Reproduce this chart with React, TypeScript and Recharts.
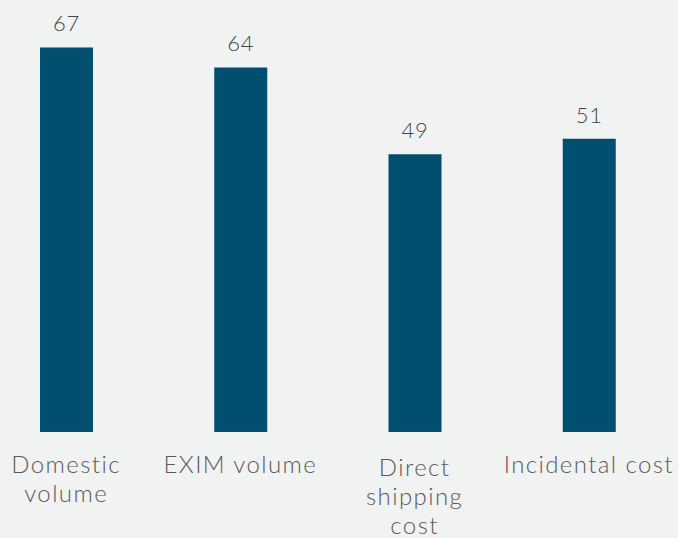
import { Bar, BarChart, LabelList, XAxis, YAxis } from 'recharts';

const categories = ['Domestic\nvolume', 'EXIM volume', 'Direct\nshipping\ncost', 'Incidental cost'];
const scores = [67.3, 63.8, 48.6, 51.3];

const chartData = categories.map((name, i) => ({ name, value: scores[i] }));

const FONT = 'Lato, "DejaVu Sans", sans-serif';

// eslint-disable-next-line @typescript-eslint/no-explicit-any
const CategoryTick = ({ x, y, payload }: any) => {
    const lines = String(payload.value).split('\n');
    // the three-line label sits a little lower in the original
    const base = lines.length > 2 ? 44 : 41;
    return (
        <text
            x={x}
            y={y + base}
            textAnchor="middle"
            fill="#5a5a5a"
            fontSize={24}
            fontWeight={300}
            fontFamily={FONT}
            letterSpacing={1.4}
        >
            {lines.map((line, i) => (
                <tspan key={i} x={x} dy={i === 0 ? 0 : 29}>
                    {line}
                </tspan>
            ))}
        </text>
    );
};

const App = () => {
    return (
        <div
            style={{
                position: 'fixed',
                left: 0,
                top: 0,
                width: 678,
                height: 538,
                background: '#f1f2f2',
                overflow: 'hidden',
            }}
        >
            <div style={{ marginLeft: -21 }}>
                <BarChart
                    width={699}
                    height={538}
                    data={chartData}
                    margin={{ top: 32, right: 2, bottom: 0, left: 0 }}
                >
                    <XAxis
                        dataKey="name"
                        axisLine={false}
                        tickLine={false}
                        tickSize={0}
                        tickMargin={0}
                        height={106}
                        interval={0}
                        tick={<CategoryTick />}
                    />
                    <YAxis hide domain={[0, 70]} allowDataOverflow />
                    <Bar dataKey="value" fill="#004f6e" barSize={53} isAnimationActive={false}>
                        <LabelList
                            dataKey="value"
                            position="top"
                            offset={16}
                            formatter={(v: number) => Math.round(v)}
                            fill="#454545"
                            fontSize={22}
                            fontWeight={300}
                            fontFamily={FONT}
                            letterSpacing={0.8}
                        />
                    </Bar>
                </BarChart>
            </div>
        </div>
    );
};

export default App;
